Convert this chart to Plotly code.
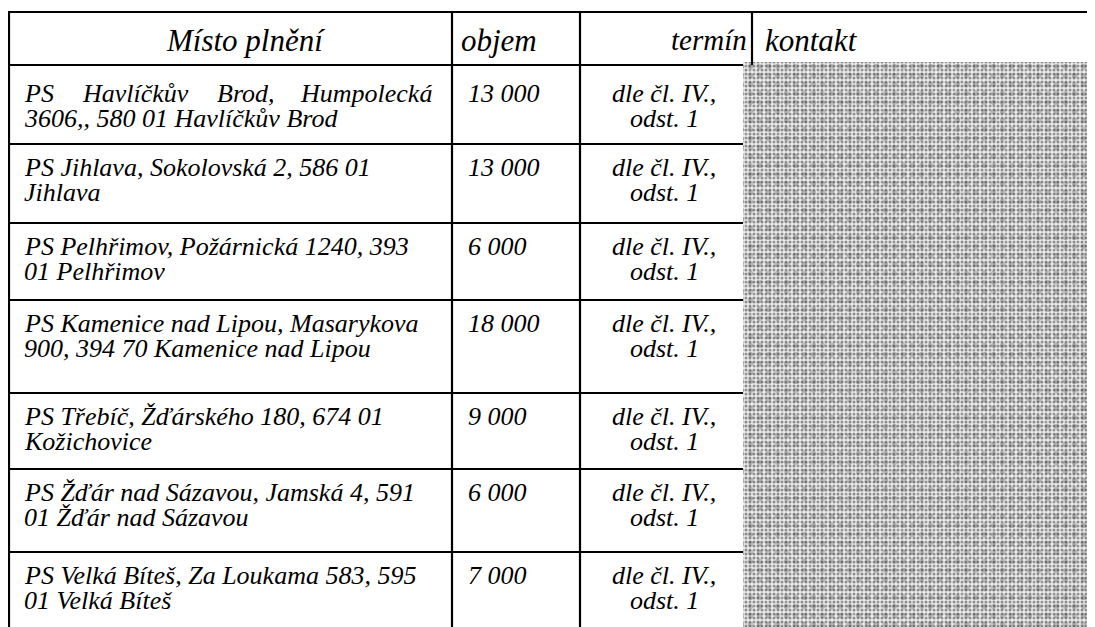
import plotly.graph_objects as go

# ---- data ----
headers = ["Místo plnění", "objem", "termín", "kontakt"]
place_line1 = [
    "PS Havlíčkův Brod, Humpolecká",
    "PS Jihlava, Sokolovská 2, 586 01",
    "PS Pelhřimov, Požárnická 1240, 393",
    "PS Kamenice nad Lipou, Masarykova",
    "PS Třebíč, Žďárského 180, 674 01",
    "PS Žďár nad Sázavou, Jamská 4, 591",
    "PS Velká Bíteš, Za Loukama 583, 595",
]
place_line2 = [
    "3606,, 580 01 Havlíčkův Brod",
    "Jihlava",
    "01 Pelhřimov",
    "900, 394 70 Kamenice nad Lipou",
    "Kožichovice",
    "01 Žďár nad Sázavou",
    "01 Velká Bíteš",
]
volumes = [13000, 13000, 6000, 18000, 9000, 6000, 7000]
term_line1 = ["dle čl. IV.,"] * 7
term_line2 = ["odst. 1"] * 7

# ---- layout (pixels, page coordinates) ----
W, H = 1095, 627
OFF = 8  # page body margin
x_left, x_c1, x_c2, x_c3, x_noise = 9, 452, 580, 752, 743
y_top, y_head = 12, 65
row_bottoms = [144, 223, 300, 393, 469, 552, 700]
FONT = "Liberation Serif, Times New Roman, serif"
fs = 26
hfs = 31

fig = go.Figure()

# redacted "kontakt" area (textured)
cx_noise = (x_noise + W + OFF) / 2
wn = W + OFF - x_noise
for shp, fg, bg, sz, sol, col in [
    (".", "#2a2a2a", "#ececec", 4, 0.45, "#ececec"),
    (".", "rgba(20,20,20,0.5)", "rgba(0,0,0,0)", 9, 0.3, "rgba(0,0,0,0)"),
    ("x", "rgba(255,255,255,0.5)", "rgba(0,0,0,0)", 13, 0.15, "rgba(0,0,0,0)"),
]:
    fig.add_trace(go.Bar(x=[cx_noise], y=[H + OFF - 62], base=[62], width=[wn],
                         marker=dict(color=col, line=dict(width=0),
                                     pattern=dict(shape=shp, fgcolor=fg, bgcolor=bg,
                                                  size=sz, solidity=sol)),
                         hoverinfo="skip", showlegend=False))

shapes = []
lw = 2.2
def hline(y, x0, x1):
    shapes.append(dict(type="line", x0=x0, x1=x1, y0=y, y1=y, line=dict(color="black", width=lw)))
def vline(x, y0, y1):
    shapes.append(dict(type="line", x0=x, x1=x, y0=y0, y1=y1, line=dict(color="black", width=lw)))

hline(y_top, x_left - 1, W + OFF)
hline(y_head, x_left - 1, x_noise)
for yb in row_bottoms[:-1]:
    hline(yb, x_left - 1, x_noise)
vline(x_left, y_top - 1, H + OFF)
vline(x_c1, y_top - 1, H + OFF)
vline(x_c2, y_top - 1, H + OFF)
vline(x_c3, y_top - 1, y_head)

ann = []
def txt(x, y, s, anchor="left", size=fs):
    ann.append(dict(x=x, y=y, text="<i>%s</i>" % s, showarrow=False, xanchor=anchor,
                    yanchor="middle", font=dict(family=FONT, size=size, color="black"),
                    xref="x", yref="y"))

# headers
hy = 40
txt(245, hy, headers[0], "center", hfs)
txt(459, hy, headers[1], "left", hfs)
txt(749, hy, headers[2], "right", hfs - 2)
txt(763, hy, headers[3], "left", hfs)

tops = [y_head] + row_bottoms[:-1]
for i in range(len(volumes)):
    t = tops[i]
    d = 28 if i == 0 else 23
    y1, y2 = t + d, t + d + 25
    if i == 0:
        # justified first line
        words = place_line1[0].split(" ")
        pos = [(22, "left"), (80, "left"), (215, "left"), (434, "right")]
        for w_, (xw, an) in zip(words, pos):
            txt(xw, y1, w_, an)
    else:
        txt(22, y1, place_line1[i])
    txt(22, y2, place_line2[i])
    vol = f"{volumes[i]:,}".replace(",", " ")
    txt(466, y1, vol)
    cx = 664
    txt(cx, y1, term_line1[i], "center")
    txt(cx, y2, term_line2[i], "center")

fig.update_layout(
    width=W, height=H, margin=dict(l=0, r=0, t=0, b=0),
    paper_bgcolor="white", plot_bgcolor="white",
    xaxis=dict(range=[OFF, W + OFF], visible=False, fixedrange=True),
    yaxis=dict(range=[H + OFF, OFF], visible=False, fixedrange=True),
    shapes=shapes, annotations=ann, bargap=0, barmode="overlay",
)
fig.write_html("out.html")
